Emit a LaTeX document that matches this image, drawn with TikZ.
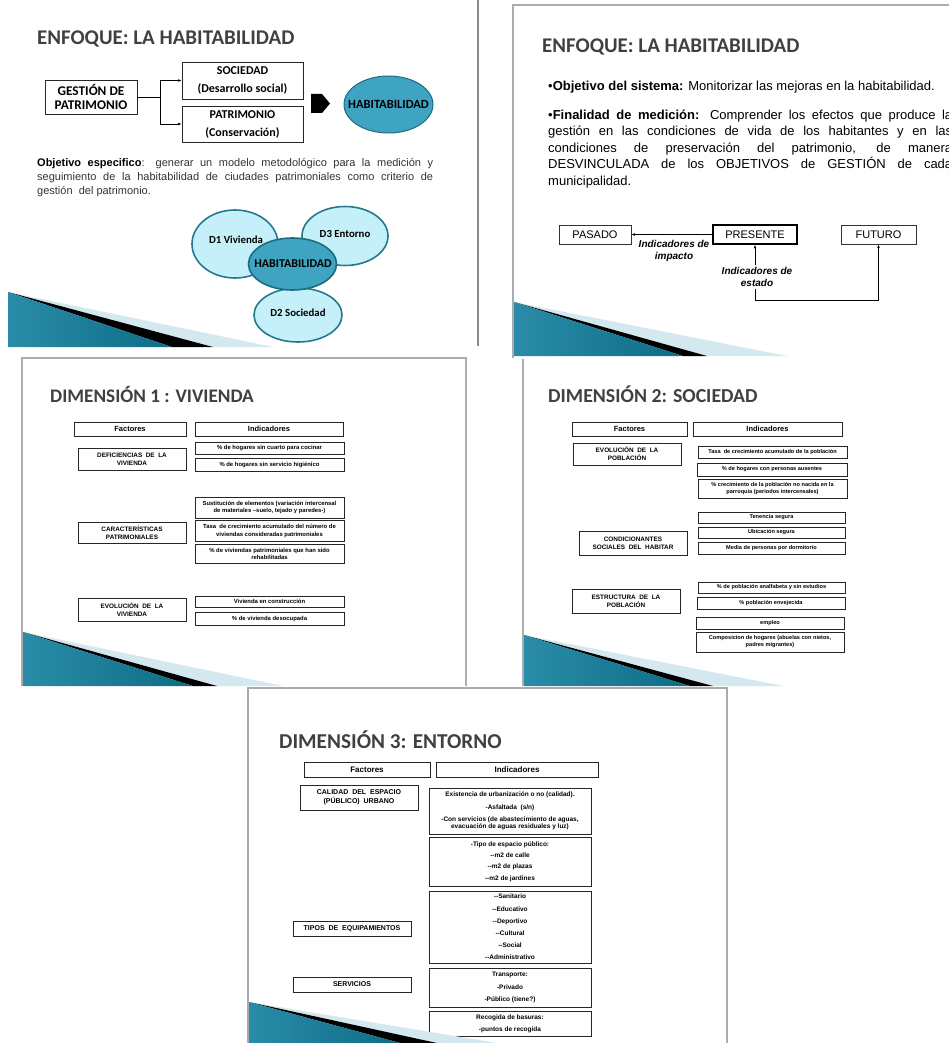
\documentclass[tikz,border=0pt]{standalone}
\usepackage{fontspec}
\setmainfont{Liberation Sans}
\newfontfamily\carlito{Carlito}
\usetikzlibrary{arrows.meta}

\definecolor{titlegray}{HTML}{404040}
\definecolor{framegray}{HTML}{A8ABAF}
\definecolor{tealdark}{HTML}{0E6C86}
\definecolor{tealmid}{HTML}{2A8CA8}
\definecolor{teallight}{HTML}{5DBAD4}
\definecolor{bandpale}{HTML}{D4E8EF}
\definecolor{habfill}{HTML}{3EA4C2}
\definecolor{habedge}{HTML}{1C6B82}
\definecolor{dimfill}{HTML}{C6F0F9}
\definecolor{dimedge}{HTML}{24798F}
\definecolor{bodygray}{HTML}{333333}

% teal "flow" wedge in the lower-left corner of a slide:
% #1 left x, #2 apex y, #3 bottom y, #4 teal end, #5 black end, #6 pale end
\newcommand\flowwedge[6]{%
  \fill[bandpale] (#1,#2) -- (#6,#3) -- (#5,#3) -- cycle;
  \fill[black] (#1,#2) -- (#5,#3) -- (#4,#3) -- cycle;
  \shade[left color=tealmid, middle color=teallight, right color=tealdark]
    (#1,#2) -- (#4,#3) -- (#1,#3) -- cycle;
}
% rectangular box given by its corners: name, x1, y1, x2, y2, style, text
\newcommand\slidebox[7]{%
  \node[#6, minimum width={(#4)-(#2)}, minimum height={(#5)-(#3)}]
    (#1) at ({((#2)+(#4))/2},{((#3)+(#5))/2}) {#7};}

\tikzset{
  stitle/.style={font=\carlito\bfseries\fontsize{#1}{24}\selectfont, text=titlegray,
    inner sep=0, anchor=base west},
  sonebox/.style={draw=black!85, line width=0.8pt, inner sep=0, align=center,
    font=\carlito\bfseries\fontsize{12}{14}\selectfont},
  stwobox/.style={draw=black!80, line width=0.8pt, inner sep=0,
    font=\fontsize{11}{13}\selectfont},
  stwolab/.style={font=\bfseries\itshape\fontsize{10}{12}\selectfont,
    align=center, inner sep=2.5pt},
  tblbox/.style={draw=black!85, line width=0.9pt, inner sep=0, align=center},
  hdrA/.style={tblbox, font=\bfseries\fontsize{7.5}{9}\selectfont},
  facA/.style={tblbox, font=\bfseries\fontsize{6.4}{8}\selectfont},
  indA/.style={tblbox, font=\bfseries\fontsize{5.9}{7.2}\selectfont},
  hdrB/.style={tblbox, font=\bfseries\fontsize{7.5}{9}\selectfont},
  facB/.style={tblbox, font=\bfseries\fontsize{6.4}{8}\selectfont},
  indB/.style={tblbox, font=\bfseries\fontsize{5.6}{7}\selectfont},
  hdrC/.style={tblbox, font=\bfseries\fontsize{8}{10}\selectfont},
  facC/.style={tblbox, font=\bfseries\fontsize{7}{9}\selectfont},
  indC/.style={tblbox, font=\bfseries\fontsize{6.5}{12.2}\selectfont},
  arr/.style={-{Latex[length=3.5pt,width=2.6pt]}, line width=0.6pt},
  dimell/.style={draw=dimedge, fill=dimfill, line width=1.6pt},
  dimtxt/.style={font=\carlito\bfseries\fontsize{10.8}{12}\selectfont, inner sep=0},
}

\begin{document}
\begin{tikzpicture}[x=1pt,y=-1pt]
\useasboundingbox (0,0) rectangle (949,1043);
\clip (0,0) rectangle (949,1043);
\fill[white] (0,0) rectangle (949,1043);

% ---------------- slide: enfoque (left) ----------------
\draw[black!45, line width=1.2pt] (478,0) -- (478,346);
\node[stitle=20.9] (t1) at (37,45) {ENFOQUE: LA HABITABILIDAD};

\slidebox{gest}{45}{80}{137}{114}{sonebox, font=\carlito\bfseries\fontsize{13.3}{14}\selectfont}{GESTIÓN DE\\PATRIMONIO}
\slidebox{soc}{182}{62}{303}{99}{sonebox}{SOCIEDAD\\[4pt](Desarrollo social)}
\slidebox{pat}{182}{106}{303}{142}{sonebox}{PATRIMONIO\\[4pt](Conservación)}
\draw[arr] (gest.east) -- ++(23,0) |- (soc.west);
\draw[arr] (gest.east) -- ++(23,0) |- (pat.west);

\fill[black] (311,94) -- (322,94) -- (330,103.5) -- (322,113) -- (311,113) -- cycle;
\draw[draw=habedge, fill=habfill, line width=1pt] (388.5,104.5) ellipse [x radius=44.5pt, y radius=28.5pt];
\node[font=\carlito\bfseries\fontsize{12.5}{14}\selectfont, inner sep=0] (habA) at (388.5,104.5) {HABITABILIDAD};

\node[anchor=base west, inner sep=0, text=bodygray, font=\fontsize{11}{13}\selectfont] (pa) at (37,167)
  {\makebox[396pt][s]{\textcolor{black}{\textbf{Objetivo especifico}}: generar un modelo metodológico para la medición y}};
\node[anchor=base west, inner sep=0, text=bodygray, font=\fontsize{11}{13}\selectfont] (pb) at (37,181)
  {\makebox[396pt][s]{seguimiento de la habitabilidad de ciudades patrimoniales como criterio de}};
\node[anchor=base west, inner sep=0, text=bodygray, font=\fontsize{11}{13}\selectfont] (pc) at (37,194)
  {gestión\ \ del patrimonio.};

\draw[dimell] (235,244) ellipse [x radius=43pt, y radius=34pt];
\draw[dimell] (345,236) ellipse [x radius=43pt, y radius=29.5pt];
\draw[dimell] (298,315) ellipse [x radius=44pt, y radius=27pt];
\draw[draw=habedge, fill=habfill, line width=1.6pt] (292.5,264) ellipse [x radius=44pt, y radius=26pt];
\node[dimtxt] (dv) at (236,240) {D1 Vivienda};
\node[dimtxt] (de) at (345,234) {D3 Entorno};
\node[dimtxt] (ds) at (298,313) {D2 Sociedad};
\node[font=\carlito\bfseries\fontsize{12}{14}\selectfont, inner sep=0] (habB) at (293,264) {HABITABILIDAD};

\flowwedge{8}{292}{347}{172}{213}{273}

% ---------------- slide: enfoque (right) ----------------
\draw[framegray, line width=2.5pt] (513,358) -- (513,5) -- (960,5);
\node[stitle=20.9] (t2) at (542,53) {ENFOQUE: LA HABITABILIDAD};

\node[anchor=base west, inner sep=0, font=\fontsize{13}{16}\selectfont] (qa) at (548,90.5)
  {•\textbf{Objetivo del sistema:} Monitorizar las mejoras en la habitabilidad.};
\node[anchor=base west, inner sep=0, font=\fontsize{13}{16}\selectfont] (qb) at (548,119.5)
  {\makebox[404pt][s]{•\textbf{Finalidad de medición:} Comprender los efectos que produce la}};
\node[anchor=base west, inner sep=0, font=\fontsize{13}{16}\selectfont] (qc) at (548,136)
  {\makebox[404pt][s]{gestión en las condiciones de vida de los habitantes y en las}};
\node[anchor=base west, inner sep=0, font=\fontsize{13}{16}\selectfont] (qd) at (548,152.5)
  {\makebox[404pt][s]{condiciones de preservación del patrimonio, de manera}};
\node[anchor=base west, inner sep=0, font=\fontsize{13}{16}\selectfont] (qe) at (548,169)
  {\makebox[404pt][s]{DESVINCULADA de los OBJETIVOS de GESTIÓN de cada}};
\node[anchor=base west, inner sep=0, font=\fontsize{13}{16}\selectfont] (qf) at (548,185.5)
  {municipalidad.};

\slidebox{pas}{559}{225}{631}{244}{stwobox}{PASADO}
\slidebox{pres}{713}{225}{797}{244}{stwobox, line width=1.5pt, draw=black}{PRESENTE}
\slidebox{fut}{841}{225}{916}{244}{stwobox}{FUTURO}
\node[stwolab] (imp) at (674,251) {Indicadores de\\impacto};
\node[stwolab] (est) at (757,277) {Indicadores de\\estado};
\draw[arr] (pres.west) -- (pas.east);
\draw[arr] (est.north -| pres.south) -- (pres.south);
\draw[arr] (est.south -| pres.south) -- ++(0,11) -| (fut.south);

\flowwedge{514}{302}{356}{683}{707}{787}

% ---------------- slide: dimension 1 ----------------
\draw[framegray, line width=2.5pt] (22,686) -- (22,358) -- (466,358) -- (466,686);
\node[stitle=19.2] (t3) at (50,402) {DIMENSIÓN 1 : VIVIENDA};

\slidebox{h31}{74}{422}{186}{436}{hdrA}{Factores}
\slidebox{h32}{195}{422}{343}{436}{hdrA}{Indicadores}
\slidebox{f31}{78}{448}{186}{470}{facA}{DEFICIENCIAS\ \ DE\ \ LA\\VIVIENDA}
\slidebox{i311}{195}{442}{344}{454}{indA}{\% de hogares sin cuarto para cocinar}
\slidebox{i312}{195}{458}{344}{471}{indA}{\% de hogares sin servicio higiénico}
\slidebox{i321}{195}{497}{344}{518}{indA}{Sustitución de elementos (variación intercensal\\de materiales –suelo, tejado y paredes-)}
\slidebox{f32}{78}{522}{186}{543}{facA}{CARACTERÍSTICAS\\PATRIMONIALES}
\slidebox{i322}{195}{520.5}{344}{541.5}{indA}{Tasa\ \ de crecimiento acumulado del número de\\viviendas consideradas patrimoniales}
\slidebox{i323}{195}{544}{344}{563}{indA}{\% de viviendas patrimoniales que han sido\\rehabilitadas}
\slidebox{f33}{78}{598}{186}{621}{facA}{EVOLUCIÓN\ \ DE\ \ LA\\VIVIENDA}
\slidebox{i331}{195}{596}{344}{607}{indA}{Vivienda en construcción}
\slidebox{i332}{195}{612}{344}{625}{indA}{\% de vivienda desocupada}

\flowwedge{23}{632}{686}{193}{217}{283}

% ---------------- slide: dimension 2 ----------------
\draw[framegray, line width=2.5pt] (523,686) -- (523,359);
\node[stitle=19.8] (t4) at (548,402) {DIMENSIÓN 2: SOCIEDAD};

\slidebox{h41}{572}{422}{687}{436}{hdrB}{Factores}
\slidebox{h42}{693}{422}{842}{436}{hdrB}{Indicadores}
\slidebox{f41}{573}{443}{681}{465}{facB}{EVOLUCIÓN\ \ DE\ \ LA\\POBLACIÓN}
\slidebox{i411}{698}{446}{847}{458}{indB}{Tasa\ \ de crecimiento acumulado de la población}
\slidebox{i412}{697}{463}{847}{476}{indB}{\% de hogares con personas ausentes}
\slidebox{i413}{698}{479}{847}{498}{indB}{\% crecimiento de la población no nacida en la\\parroquia (periodos intercensales)}
\slidebox{i421}{698}{512}{845}{523}{indB}{Tenencia segura}
\slidebox{i422}{698}{527}{845}{538}{indB}{Ubicación segura}
\slidebox{i423}{698}{542}{845}{554}{indB}{Media de personas por dormitorio}
\slidebox{f42}{579}{531}{687}{555}{facB}{CONDICIONANTES\\SOCIALES\ \ DEL\ \ HABITAR}
\slidebox{i431}{698}{582}{845}{593}{indB}{\% de población analfabeta y sin estudios}
\slidebox{i432}{697}{597}{845}{609}{indB}{\% población envejecida}
\slidebox{f43}{572}{589}{680}{613}{facB}{ESTRUCTURA\ \ DE\ \ LA\\POBLACIÓN}
\slidebox{i433}{696}{617}{844}{629}{indB}{empleo}
\slidebox{i434}{696}{632}{844}{652}{indB}{Composicion de hogares (abuelas con nietos,\\padres migrantes)}

\flowwedge{524}{635}{686}{690}{713}{783}

% ---------------- slide: dimension 3 ----------------
\fill[white] (248,688) rectangle (727,1050);
\draw[framegray, line width=2.5pt] (248,1050) -- (248,688) -- (727,688) -- (727,1050);
\node[stitle=21.2] (t5) at (279,748) {DIMENSIÓN 3: ENTORNO};

\slidebox{h51}{304}{762}{430}{777}{hdrC}{Factores}
\slidebox{h52}{436}{762}{598}{777}{hdrC}{Indicadores}
\slidebox{f51}{300}{785}{418}{810}{facC, font=\bfseries\fontsize{7}{8.5}\selectfont}{CALIDAD\ \ DEL\ \ ESPACIO\\(PÚBLICO)\ \ URBANO}
\slidebox{i51}{429}{788}{591}{834}{indC}{Existencia de urbanización o no (calidad).\\-Asfaltada\ \ (s/n)\\-Con servicios (de abastecimiento de aguas,\\[-5pt]evacuación de aguas residuales y luz)}
\slidebox{i52}{429}{837}{591}{886}{indC, font=\bfseries\fontsize{6.5}{11.3}\selectfont}{-Tipo de espacio público:\\-{}-m2 de calle\\-{}-m2 de plazas\\-{}-m2 de jardines}
\slidebox{i53}{429}{891}{591}{963}{indC}{-{}-Sanitario\\-{}-Educativo\\-{}-Deportivo\\-{}-Cultural\\-{}-Social\\-{}-Administrativo}
\slidebox{f52}{293}{921}{411}{936}{facC}{TIPOS\ \ DE\ \ EQUIPAMIENTOS}
\slidebox{i54}{429}{968}{591}{1007}{indC}{Transporte:\\-Privado\\-Público (tiene?)}
\slidebox{f53}{293}{977}{411}{992}{facC}{SERVICIOS}
\slidebox{i55}{429}{1011}{591}{1036}{indC}{Recogida de basuras:\\-puntos de recogida}

\flowwedge{249}{1002}{1043}{400}{437}{497}
\end{tikzpicture}
\end{document}
